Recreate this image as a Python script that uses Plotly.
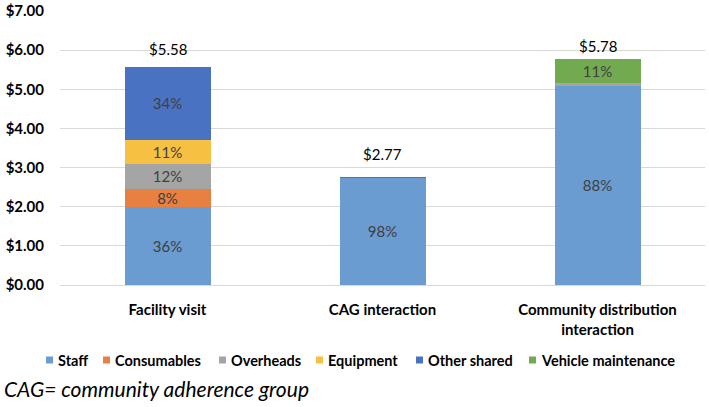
import plotly.graph_objects as go

categories = ["Facility visit", "CAG interaction", "Community distribution<br>interaction"]
series_names = ["Staff", "Consumables", "Overheads", "Equipment", "Other shared", "Vehicle maintenance"]
staff = [2.00, 2.74, 5.09]
consumables = [0.45, 0.0, 0.0]
overheads = [0.65, 0.0, 0.08]
equipment = [0.60, 0.0, 0.0]
other_shared = [1.88, 0.01, 0.0]
vehicle = [0.0, 0.0, 0.61]
staff_pct = ["36%", "98%", "88%"]
consumables_pct = ["8%", "", ""]
overheads_pct = ["12%", "", ""]
equipment_pct = ["11%", "", ""]
other_pct = ["34%", "", ""]
vehicle_pct = ["", "", "11%"]
totals = [5.58, 2.77, 5.78]
total_labels = ["$5.58", "$2.77", "$5.78"]
colors = ["#6A9BD1", "#E8803F", "#A5A5A5", "#F6C143", "#4A72C2", "#72AA4F"]

FONT = "Lato"
W, H = 709, 407
L, R, T, B = 60, 4, 11, 122
PW, PH = W - L - R, H - T - B


def px_x(px):
    return (px - L) / PW


def px_y(py):
    return (H - B - py) / PH


fig = go.Figure()
values = [staff, consumables, overheads, equipment, other_shared, vehicle]
texts = [staff_pct, consumables_pct, overheads_pct, equipment_pct, other_pct, vehicle_pct]
for name, vals, txt, col in zip(series_names, values, texts, colors):
    fig.add_trace(go.Bar(
        name=name, x=categories, y=vals, text=txt, marker_color=col,
        marker_line_width=0, textposition="inside", insidetextanchor="middle",
        textfont=dict(family=FONT, size=15, color="#404040"),
        textangle=0, width=0.4, hoverinfo="skip", showlegend=False,
    ))

annotations = []
# total labels above each bar
for cat, tot, lab, shift in zip(categories, totals, total_labels, [18, 23, 13]):
    annotations.append(dict(x=cat, y=tot, text=lab, xref="x", yref="y", showarrow=False,
                            xanchor="center", yanchor="middle", yshift=shift,
                            font=dict(family=FONT, size=15, color="#000000")))

# custom legend (small squares + bold labels)
legend_sq_px = [46, 103, 219, 316, 416, 529]
shapes = []
ly = 360
for name, col, sx in zip(series_names, colors, legend_sq_px):
    shapes.append(dict(type="rect", xref="paper", yref="paper",
                       x0=px_x(sx), x1=px_x(sx + 7), y0=px_y(ly + 3.5), y1=px_y(ly - 3.5),
                       fillcolor=col, line=dict(width=0)))
    annotations.append(dict(text=name, xref="paper", yref="paper", x=px_x(sx + 10), y=px_y(ly),
                            xanchor="left", yanchor="middle", showarrow=False,
                            font=dict(family=FONT, size=14.5, color="#000000", weight="bold")))

annotations.append(dict(text="CAG= community adherence group", xref="paper", yref="paper",
                        x=px_x(2), y=px_y(388), xanchor="left", yanchor="middle", showarrow=False,
                        font=dict(family=FONT, size=21, color="#000000", style="italic")))

fig.update_layout(
    barmode="stack",
    width=W, height=H,
    margin=dict(l=L, r=R, t=T, b=B, autoexpand=False),
    paper_bgcolor="white", plot_bgcolor="white",
    uniformtext=dict(minsize=15, mode="show"),
    showlegend=False,
    shapes=shapes,
    annotations=annotations,
)
fig.update_yaxes(range=[0, 7], dtick=1, tickprefix="$", tickformat=".2f",
                 showgrid=True, gridcolor="#D9D9D9", gridwidth=1,
                 zeroline=True, zerolinecolor="#D9D9D9", zerolinewidth=1,
                 tickfont=dict(family=FONT, size=15, color="#000000", weight="bold"),
                 ticks="", ticklabelstandoff=15, automargin=False)
fig.update_xaxes(showline=False, ticks="",
                 tickfont=dict(family=FONT, size=15, color="#000000", weight="bold"),
                 ticklabelstandoff=14, automargin=False)

fig.write_html("out.html", config={"displayModeBar": False},
               post_script="document.body.style.margin='0';document.body.style.overflow='hidden';")
